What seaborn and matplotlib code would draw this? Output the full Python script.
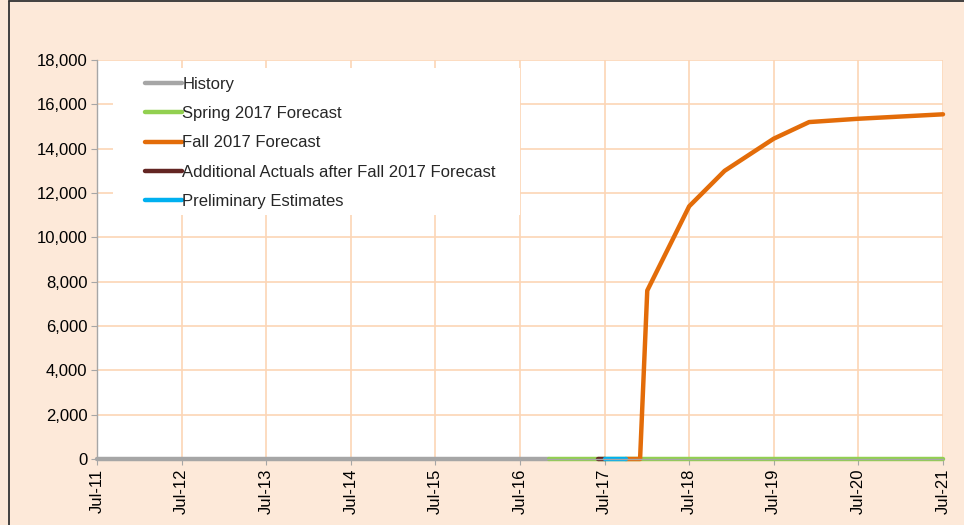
import pandas as pd
import numpy as np
import matplotlib
matplotlib.use('Agg')
import matplotlib.pyplot as plt
import matplotlib.dates as mdates
from matplotlib.ticker import FuncFormatter
from matplotlib.lines import Line2D
from matplotlib.patches import Rectangle
import seaborn as sns

sns.set_style('white')
plt.rcParams['font.family'] = ['Liberation Sans', 'DejaVu Sans']
plt.rcParams['font.size'] = 12

# data
history_dates = ['2011-07-01', '2016-11-01']
history_vals = [0, 0]
spring_dates = ['2016-11-01', '2021-07-01']
spring_vals = [0, 0]
fall_dates = ['2017-10-01', '2017-12-01', '2018-01-01', '2018-07-01', '2018-12-01',
              '2019-07-01', '2019-12-01', '2020-07-01', '2021-07-01']
fall_vals = [0, 0, 7600, 11400, 13000, 14450, 15200, 15350, 15550]
actual_dates = ['2017-06-01', '2017-07-01']
actual_vals = [0, 0]
prelim_dates = ['2017-07-01', '2017-10-01']
prelim_vals = [0, 0]

series_names = ['History', 'Spring 2017 Forecast', 'Fall 2017 Forecast',
                'Additional Actuals after Fall 2017 Forecast', 'Preliminary Estimates']
series_colors = ['#A6A6A6', '#92D050', '#E36C09', '#632523', '#00B0F0']

frames = []
for name, d, v in zip(series_names,
                      [history_dates, spring_dates, fall_dates, actual_dates, prelim_dates],
                      [history_vals, spring_vals, fall_vals, actual_vals, prelim_vals]):
    frames.append(pd.DataFrame({'date': pd.to_datetime(d), 'value': v, 'series': name}))
df = pd.concat(frames, ignore_index=True)

bg = '#FDE9D9'
fig = plt.figure(figsize=(9.64, 5.25), dpi=100, facecolor=bg)
ax = fig.add_axes([97 / 964, 1 - 459 / 525, (943 - 97) / 964, (459 - 60) / 525])
ax.set_facecolor('white')

sns.lineplot(data=df, x='date', y='value', hue='series', hue_order=series_names,
             palette=dict(zip(series_names, series_colors)), linewidth=3.2,
             solid_capstyle='round', ax=ax, legend=False, clip_on=False)

ax.set_xlim(pd.Timestamp('2011-07-01'), pd.Timestamp('2021-07-01'))
ax.set_ylim(0, 18000)
ax.set_yticks(np.arange(0, 18001, 2000))
ax.yaxis.set_major_formatter(FuncFormatter(lambda v, p: f'{int(v):,}'))
ax.set_xticks(pd.to_datetime([f'{y}-07-01' for y in range(2011, 2022)]))
ax.xaxis.set_major_formatter(mdates.DateFormatter('%b-%y'))
plt.setp(ax.get_xticklabels(), rotation=90)
ax.set_xlabel('')
ax.set_ylabel('')

ax.grid(True, color='#FCD5B5', linewidth=1.2)
ax.set_axisbelow(True)
for s in ['top', 'right']:
    ax.spines[s].set_visible(False)
for s in ['left', 'bottom']:
    ax.spines[s].set_color('#A6A6A6')
    ax.spines[s].set_linewidth(1)
ax.tick_params(axis='both', length=4, color='#A6A6A6', labelsize=12, labelcolor='black', pad=3)
ax.tick_params(axis='y', left=True)
ax.tick_params(axis='x', bottom=True)

# white box behind the legend, covering the grid
ax.add_patch(Rectangle((113 / 964, 1 - 215 / 525), (520 - 113) / 964, (215 - 68) / 525,
                       transform=fig.transFigure, facecolor='white', edgecolor='none', zorder=1))

handles = [Line2D([0], [0], color=c, lw=3.2, solid_capstyle='round') for c in series_colors]
leg = ax.legend(handles, series_names, loc='upper left',
                bbox_to_anchor=(145 / 964, 1 - 77 / 525), bbox_transform=fig.transFigure,
                frameon=False, fontsize=12, handlelength=2.2, handletextpad=0.05,
                labelspacing=0.85, borderpad=0, borderaxespad=0)

# outer border (left and top)
fig.add_artist(Line2D([8.5 / 964, 8.5 / 964], [0, 1 - 1 / 525], transform=fig.transFigure,
                      color='#333333', lw=1.3))
fig.add_artist(Line2D([8.5 / 964, 1], [1 - 1 / 525, 1 - 1 / 525], transform=fig.transFigure,
                      color='#333333', lw=1.3))

plt.savefig('out.png', dpi=100, facecolor=bg)
